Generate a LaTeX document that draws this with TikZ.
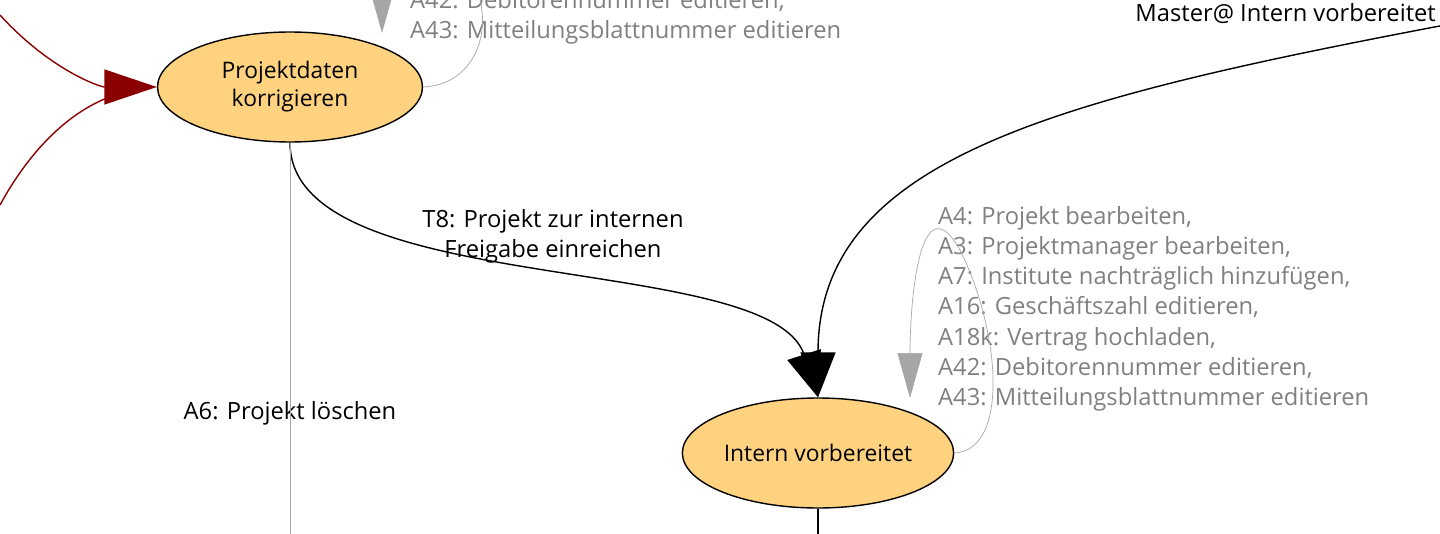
\documentclass[tikz,border=0pt]{standalone}
\usepackage{fontspec}
\setmainfont{Open Sans}
\usetikzlibrary{arrows.meta}
\definecolor{statefill}{HTML}{FFD27F}
\definecolor{darkred}{HTML}{8B0000}
\tikzstyle{state} = [ellipse, draw=black, thick, fill=statefill, minimum width=5.3cm, minimum height=2.2cm, inner sep=1pt, align=center, font=\fontsize{13}{16}\selectfont]
\tikzstyle{lbl} = [align=left, font=\fontsize{13.5}{17.2}\selectfont]
\tikzstyle{grey} = [lbl, text=gray]
\tikzstyle{arrow} = [thick,-{Triangle[length=0.9cm,width=0.7cm]}]
\tikzstyle{loop} = [gray!70,-{Triangle[length=0.9cm,width=0.5cm]}]
\tikzstyle{redarrow} = [thick, darkred, -{Triangle[length=1.05cm,width=0.7cm]}]
\usetikzlibrary{shapes.geometric}
\begin{document}
\begin{tikzpicture}[x=0.02cm,y=-0.02cm]
            \useasboundingbox (0,0) rectangle (1440,534);
            % States
            \node (korr) [state] at (290,87) {Projektdaten\\korrigieren};
            \node (intern) [state] at (818,453) {Intern vorbereitet};

            % Free ends
            \coordinate (redA) at (0,15);
            \coordinate (redB) at (0,205);
            \coordinate (topin) at (382,-20);
            \coordinate (master) at (1445,25);
            \coordinate (bottomA) at (290,540);
            \coordinate (bottomB) at (818,540);

            % Labels
            \node (lbl-top) [grey, anchor=north west] at (404,-16) {A42: Debitorennummer editieren,\\A43: Mitteilungsblattnummer editieren};
            \node (lbl-master) [lbl, anchor=east] at (1442,14) {Master@ Intern vorbereitet};
            \node (lbl-t8) [lbl, align=center] at (553,236) {T8: Projekt zur internen\\Freigabe einreichen};
            \node (lbl-a6) [lbl] at (290,413) {A6: Projekt löschen};
            \node (lbl-loop) [grey, anchor=north west] at (932,200) {A4: Projekt bearbeiten,\\A3: Projektmanager bearbeiten,\\A7: Institute nachträglich hinzufügen,\\A16: Geschäftszahl editieren,\\A18k: Vertrag hochladen,\\A42: Debitorennummer editieren,\\A43: Mitteilungsblattnummer editieren};

            % Arrows
            \draw [redarrow] (redA) .. controls (50,70) and (100,87) .. (korr.west);
            \draw [thick, darkred] (redB) .. controls (30,150) and (70,110) .. (115,95);
            \draw [loop] (topin) -- (382,33);
            \draw [gray!70] (korr.east) .. controls (470,85) and (490,40) .. (480,0);
            \draw [arrow] (korr.south) .. controls (290,300) and (770,250) .. (intern.north);
            \draw [arrow] (master) .. controls (1050,100) and (818,160) .. (intern.north);
            \draw [loop] (intern.east) .. controls (1010,450) and (1000,330) .. (960,250) .. controls (920,180) and (910,300) .. (910,398);
            \draw [gray!70] (korr.south) -- (bottomA);
            \draw [thick] (intern.south) -- (bottomB);
        \end{tikzpicture}
\end{document}
